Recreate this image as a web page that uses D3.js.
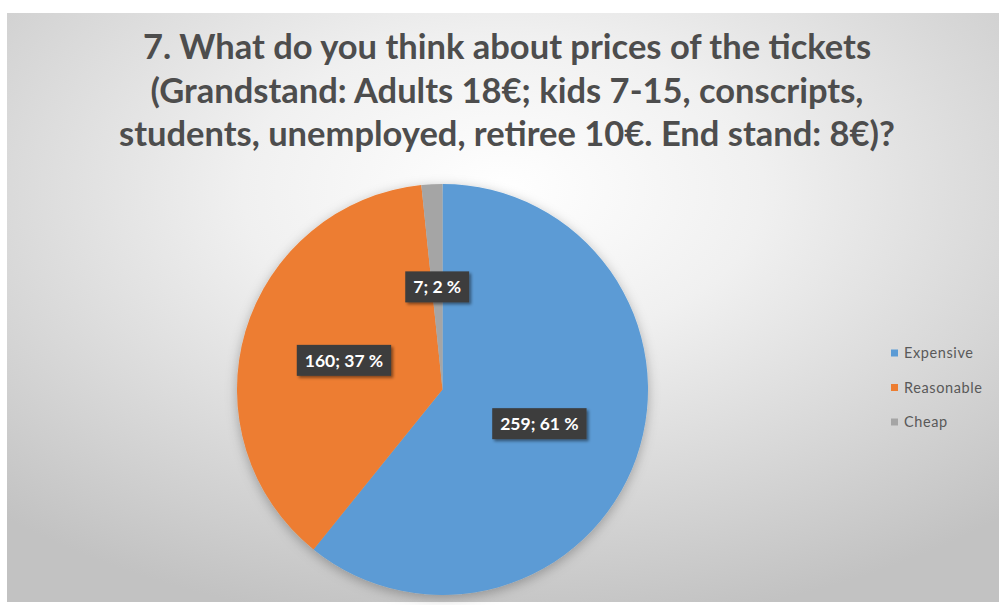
<!DOCTYPE html>
<html>
<head>
<meta charset="utf-8">
<script src="https://cdn.jsdelivr.net/npm/d3@7/dist/d3.min.js"></script>
<style>
  html, body { margin: 0; padding: 0; background: #ffffff; }
  svg { display: block; }
</style>
</head>
<body>
<svg id="chart" width="999" height="605"></svg>
<script>
// Survey answers for question 7
const categories = ["Expensive", "Reasonable", "Cheap"];
const counts = [259, 160, 7];
const percents = [61, 37, 2];
const colors = ["#5B9BD5", "#ED7D31", "#A5A5A5"];
const titleLines = [
  "7. What do you think about prices of the tickets",
  "(Grandstand: Adults 18€; kids 7-15, conscripts,",
  "students, unemployed, retiree 10€. End stand: 8€)?"
];

const W = 999, H = 605;
const svg = d3.select("#chart");
const defs = svg.append("defs");

// chart area background: soft radial gradient
const grad = defs.append("radialGradient")
  .attr("id", "bg")
  .attr("cx", 0.5).attr("cy", 0.3).attr("r", 0.75)
  .attr("fx", 0.5).attr("fy", 0.3);
grad.append("stop").attr("offset", "0%").attr("stop-color", "#ffffff");
grad.append("stop").attr("offset", "35%").attr("stop-color", "#f0f0f0");
grad.append("stop").attr("offset", "100%").attr("stop-color", "#c2c2c2");

const shadow = defs.append("filter").attr("id", "pieShadow")
  .attr("x", "-20%").attr("y", "-20%").attr("width", "140%").attr("height", "140%");
shadow.append("feDropShadow")
  .attr("dx", 0).attr("dy", 3).attr("stdDeviation", 6)
  .attr("flood-color", "#000").attr("flood-opacity", 0.28);

const lblShadow = defs.append("filter").attr("id", "lblShadow")
  .attr("x", "-20%").attr("y", "-30%").attr("width", "150%").attr("height", "170%");
lblShadow.append("feDropShadow")
  .attr("dx", 2).attr("dy", 2).attr("stdDeviation", 1.6)
  .attr("flood-color", "#000").attr("flood-opacity", 0.45);

svg.append("rect")
  .attr("x", 7).attr("y", 13)
  .attr("width", W - 7).attr("height", 602 - 13)
  .attr("fill", "url(#bg)");

// title
const title = svg.append("g")
  .attr("font-family", "Lato, 'Open Sans', sans-serif")
  .attr("font-weight", "bold")
  .attr("font-size", 34.5)
  .attr("fill", "#4d4d4d")
  .attr("text-anchor", "middle");
title.selectAll("text").data(titleLines).join("text")
  .attr("x", 507)
  .attr("y", (d, i) => 59 + i * 43.5)
  .text(d => d);

// pie
const cx = 442.5, cy = 389.5, radius = 205.5;
const pie = d3.pie().sort(null).value(d => d)
  .startAngle(0).endAngle(2 * Math.PI);
const arcs = pie(counts);
const arc = d3.arc().innerRadius(0).outerRadius(radius);
const labelArc = d3.arc().innerRadius(radius * 0.5).outerRadius(radius * 0.5);

const pieG = svg.append("g").attr("transform", `translate(${cx},${cy})`);
pieG.append("g").attr("filter", "url(#pieShadow)")
  .selectAll("path").data(arcs).join("path")
  .attr("d", arc)
  .attr("fill", (d, i) => colors[i]);

// data labels: dark boxes with value and share
const labels = pieG.selectAll("g.lbl").data(arcs).join("g")
  .attr("class", "lbl")
  .attr("transform", d => `translate(${labelArc.centroid(d)})`);
labels.each(function (d, i) {
  const g = d3.select(this);
  const box = g.append("rect").attr("fill", "#3d3d3d").attr("filter", "url(#lblShadow)");
  const t = g.append("text")
    .attr("text-anchor", "middle")
    .attr("dy", "0.36em")
    .attr("font-family", "Lato, 'Open Sans', sans-serif")
    .attr("font-weight", "bold")
    .attr("font-size", 17.5)
    .attr("fill", "#ffffff")
    .text(`${counts[i]}; ${percents[i]} %`);
  const w = t.node().getComputedTextLength() + 16;
  const h = 31;
  box.attr("x", -w / 2).attr("y", -h / 2).attr("width", w).attr("height", h);
});

// legend
const legend = svg.append("g")
  .attr("font-family", "Lato, 'Open Sans', sans-serif")
  .attr("font-size", 14.5)
  .attr("fill", "#595959");
const items = legend.selectAll("g").data(categories).join("g")
  .attr("transform", (d, i) => `translate(891,${353 + i * 34.5})`);
items.append("rect")
  .attr("x", 0).attr("y", -3.5).attr("width", 7).attr("height", 7)
  .attr("fill", (d, i) => colors[i]);
items.append("text")
  .attr("x", 13).attr("dy", "0.35em")
  .attr("letter-spacing", 0.6)
  .text(d => d);
</script>
</body>
</html>
